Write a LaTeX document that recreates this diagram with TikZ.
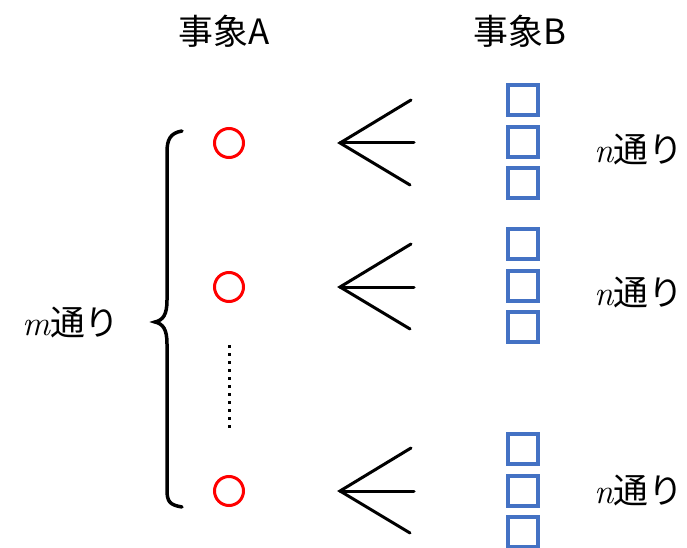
\documentclass[tikz,border=0pt]{standalone}
\usepackage{fontspec}
\newfontfamily\cjk{Noto Sans CJK JP}
\definecolor{sqblue}{HTML}{4472C4}
\newcommand{\varit}[1]{{\rmfamily\itshape #1}}
\begin{document}
\begin{tikzpicture}[x=1bp,y=-1bp,
  lbl/.style={font=\cjk\fontsize{35}{40}\selectfont, inner sep=0pt},
  redc/.style={circle, draw=red, line width=3bp, minimum size=29bp, inner sep=0pt},
  sq/.style={rectangle, draw=sqblue, line width=4bp, minimum size=30bp, inner sep=0pt},
  fork/.style={line width=3bp, line cap=round},
  brace/.style={line width=3.5bp, line cap=round}]
\useasboundingbox (0,0) rectangle (687,548);
\node[lbl] (hA) at (224,31) {事象A};
\node[lbl] (hB) at (520,31) {事象B};
\foreach \i/\y/\ys in {1/143/100, 2/287/244, 3/491/449} {
  \node[redc] (c\i) at (229,\y) {};
  \coordinate (v\i) at (340,\y);
  \coordinate (t\i) at (411,\y-43);
  \coordinate (m\i) at (414,\y);
  \coordinate (b\i) at (410,\y+42);
  \draw[fork] (t\i) -- (v\i) -- (b\i);
  \draw[fork] (v\i) -- (m\i);
  \node[sq] (s\i a) at (523,\ys) {};
  \node[sq] (s\i b) at (523,\ys+42) {};
  \node[sq] (s\i c) at (523,\ys+83) {};
}
\node[lbl, anchor=west] (n1) at (594,150) {\varit{n}通り};
\node[lbl, anchor=west] (n2) at (594,293) {\varit{n}通り};
\node[lbl, anchor=west] (n3) at (594,491) {\varit{n}通り};
\node[lbl, anchor=west] (mm) at (22,323) {\varit{m}通り};
\coordinate (d1) at (229,345);
\coordinate (d2) at (229,433);
\draw[line width=3bp, dash pattern=on 3bp off 5bp] (d1) -- (d2);
\coordinate (bt) at (182,131);
\coordinate (bb) at (182,507);
\coordinate (tip) at (155,322);
\draw[brace] (bt) .. controls (170,133) and (167,140) .. (167,152)
  -- (167,300) .. controls (167,315) and (163,320) .. (tip)
  .. controls (163,324) and (167,329) .. (167,344)
  -- (167,490) .. controls (167,502) and (170,505) .. (bb);
\end{tikzpicture}
\end{document}
